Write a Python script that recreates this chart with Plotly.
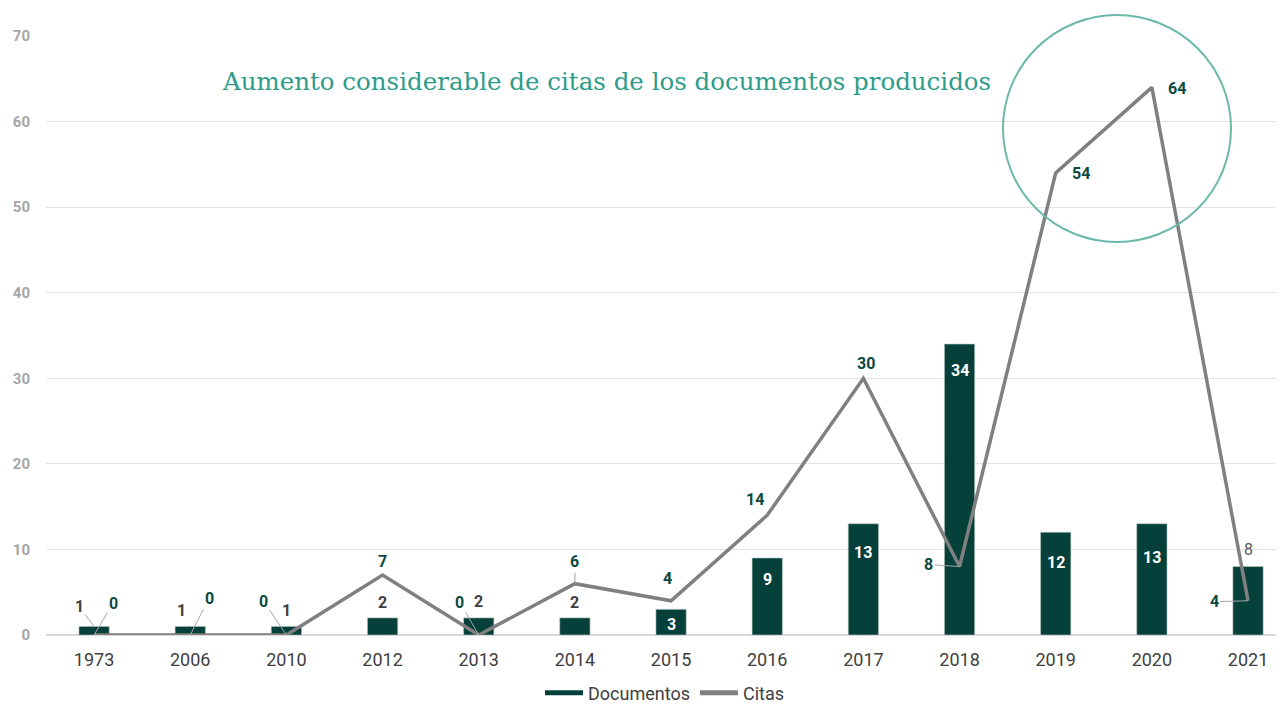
import plotly.graph_objects as go

# ---- data ----
years = ["1973", "2006", "2010", "2012", "2013", "2014", "2015", "2016", "2017", "2018", "2019", "2020", "2021"]
documentos = [1, 1, 1, 2, 2, 2, 3, 9, 13, 34, 12, 13, 8]
citas = [0, 0, 0, 7, 0, 6, 4, 14, 30, 8, 54, 64, 4]
title_text = "Aumento considerable de citas de los documentos producidos"
y_ticks = [0, 10, 20, 30, 40, 50, 60, 70]

# ---- styles / label offsets (pixels) ----
BAR_C = "#05403a"
LINE_C = "#808080"
CIT_LBL_C = "#0b4a40"
OUT_LBL_C = "#404040"
LEADER_C = "#a6a6a6"
cit_off = [(19, -32), (19, -37), (-23, -34), (0, -14), (-19, -33), (0, -22), (-4, -22),
           (-12, -16), (3, -15), (-31, -2), (25, 1), (25, 1), (-34, 1)]
cit_leader = [True, True, True, False, True, True, False, False, False, True, False, False, True]
bar_off = [(-15, -20), (-9, -16), (0, -16), (0, -15), (0, -16), (0, -15), (0, 15),
           (0, 22), (0, 29), (0, 26), (0, 30), (0, 34), (0, -17)]
bar_leader = [True, False, False, False, False, False, False, False, False, False, False, False, False]

xi = list(range(len(years)))

fig = go.Figure()
fig.add_trace(go.Bar(x=xi, y=documentos, name="Documentos", marker_color=BAR_C,
                     marker_line=dict(color="#b8c9c5", width=0.6), width=0.315,
                     showlegend=False))
# legend proxy for wide rectangle symbol
fig.add_trace(go.Scatter(x=[None], y=[None], name="Documentos", mode="lines",
                         line=dict(color=BAR_C, width=11)))
fig.add_trace(go.Scatter(x=xi, y=citas, name="Citas", mode="lines",
                         line=dict(color=LINE_C, width=3.5)))

ann = []
for i, v in enumerate(citas):
    dx, dy = cit_off[i]
    ann.append(dict(x=i, y=v, xref="x", yref="y", text="<b>%d</b>" % v,
                    showarrow=True, ax=dx, ay=dy, arrowhead=0, arrowwidth=1,
                    arrowcolor=LEADER_C if cit_leader[i] else "rgba(0,0,0,0)",
                    standoff=0, startstandoff=0,
                    font=dict(family="Roboto", size=16, color=CIT_LBL_C)))
for i, v in enumerate(documentos):
    dx, dy = bar_off[i]
    if i == len(documentos) - 1:
        txt, col = "%d" % v, "#595959"
    elif dy > 0:
        txt, col = "<b>%d</b>" % v, "white"
    else:
        txt, col = "<b>%d</b>" % v, OUT_LBL_C
    ann.append(dict(x=i, y=v, xref="x", yref="y", text=txt,
                    showarrow=True, ax=dx, ay=dy, arrowhead=0, arrowwidth=1,
                    arrowcolor=LEADER_C if bar_leader[i] else "rgba(0,0,0,0)",
                    standoff=0, startstandoff=0,
                    font=dict(family="Roboto", size=16, color=col)))
ann.append(dict(x=(220 - 46) / 1238, y=(635 - 81) / 599, xref="paper", yref="paper",
                xanchor="left", yanchor="middle", showarrow=False, text=title_text,
                font=dict(family="DejaVu Serif", size=24.5, color="#2e9c8a")))

fig.update_layout(
    width=1276, height=699,
    margin=dict(l=38, r=0, t=28, b=72, autoexpand=False),
    paper_bgcolor="white", plot_bgcolor="white",
    bargap=0.69,
    hovermode=False,
    annotations=ann,
    shapes=[dict(type="circle", xref="paper", yref="paper",
                 x0=(1003 - 46) / 1238, x1=(1231 - 46) / 1238,
                 y0=(635 - 242) / 599, y1=(635 - 15) / 599,
                 line=dict(color="#6cb8ab", width=2))],
    legend=dict(orientation="h", x=0.5, xanchor="center", y=(635 - 693) / 599, yanchor="middle",
                font=dict(family="Roboto", size=18, color="#404040"), itemwidth=38,
                traceorder="normal", itemsizing="constant"),
    font=dict(family="Roboto"),
)
fig.update_xaxes(tickmode="array", tickvals=xi, ticktext=years, range=[-0.5, 12.374],
                 showgrid=False, showline=False, zeroline=False, automargin=False,
                 tickfont=dict(family="Roboto", size=18, color="#404040"), ticks="", ticklabelstandoff=12)
fig.update_yaxes(range=[0, 70], tickvals=y_ticks, showgrid=True, gridcolor="#e3e3e3", gridwidth=1,
                 zeroline=True, zerolinecolor="#d9d9d9", zerolinewidth=2, automargin=False,
                 tickfont=dict(family="Roboto", size=15, color="#a6a6a6", weight="bold"),
                 ticks="", ticklabelstandoff=15)

fig.write_html("out.html")
